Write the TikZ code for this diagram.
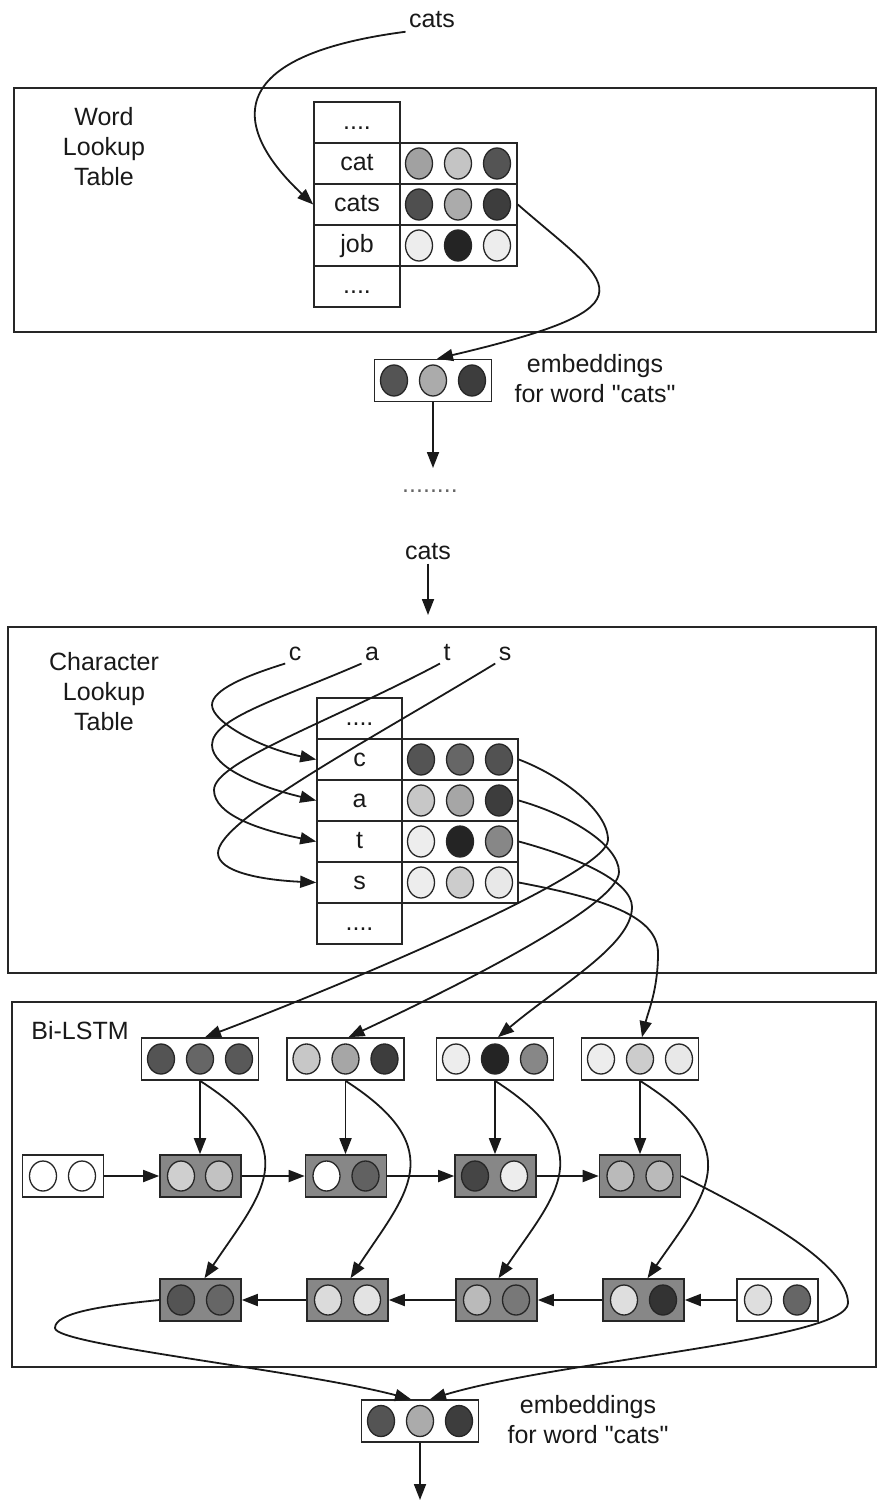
\documentclass[tikz,border=0pt]{standalone}
\usepackage{fontspec}
\setmainfont{Liberation Sans}
\usetikzlibrary{arrows.meta,shapes.geometric}
\newcommand\strq{\XeTeXglyph\XeTeXcharglyph"22\relax}
\begin{document}
\begin{tikzpicture}[x={(1pt,0)},y={(0,-1pt)},
  every node/.style={font=\fontsize{25}{30}\selectfont, text=black!90},
  frame/.style={draw=black!85, line width=1.8pt},
  cellbox/.style={draw=black!85, line width=1.6pt, minimum width=86pt, minimum height=41pt, inner sep=0pt, text height=19pt, text depth=5pt},
  rowbox/.style={draw=black!85, line width=1.6pt, minimum width=117pt, minimum height=41pt, inner sep=0pt},
  vecbox/.style={draw=black!85, fill=white, line width=1.6pt, minimum width=117pt, minimum height=42pt, inner sep=0pt},
  lstmbox/.style={draw=black!85, fill=black!47, line width=1.6pt, minimum width=81pt, minimum height=42pt, inner sep=0pt},
  initbox/.style={draw=black!85, fill=white, line width=1.6pt, minimum width=81pt, minimum height=42pt, inner sep=0pt},
  ball/.style={ellipse, draw=black!85, line width=1.3pt, minimum width=27pt, minimum height=31pt, inner sep=0pt, fill=black!#1},
  lettr/.style={text height=18pt, text depth=0pt},
  arr/.style={-{Triangle[length=16pt,width=12pt]}, line width=1.8pt, draw=black!90},
]
\useasboundingbox (0,0) rectangle (877,1502);

% ---------------- Word lookup table ----------------
\draw[frame] (14,88) rectangle (876,332);
\node (tcats) at (432,20) {cats};
\node[align=center] (wlab) at (104,147) {Word\\Lookup\\Table};
\node[cellbox] (wd1) at (357,122.5) {....};
\node[cellbox] (wcat) at (357,163.5) {cat};
\node[cellbox] (wcats) at (357,204.5) {cats};
\node[cellbox] (wjob) at (357,245.5) {job};
\node[cellbox] (wd2) at (357,286.5) {....};
\node[rowbox] (wcatv) at (458.5,163.5) {};
\node[rowbox] (wcatsv) at (458.5,204.5) {};
\node[rowbox] (wjobv) at (458.5,245.5) {};
\foreach \g [count=\k] in {37,23,67} \node[ball=\g] (wcatb\k) at ({380+\k*39},163.5) {};
\foreach \g [count=\k] in {69,33,76} \node[ball=\g] (wcatsb\k) at ({380+\k*39},204.5) {};
\foreach \g [count=\k] in {7,86,7} \node[ball=\g] (wjobb\k) at ({380+\k*39},245.5) {};

\draw[arr] (tcats.south west) .. controls (190,60) and (255,150) .. (wcats.west);

% embeddings 1
\node[vecbox] (emb1) at (433,380.5) {};
\foreach \g [count=\k] in {67,33,76} \node[ball=\g] (emb1b\k) at ({355+\k*39},380.5) {};
\node[align=center] (emb1lab) at (595,379) {embeddings\\for word \strq cats\strq};
\draw[arr] (wcatsv.east) .. controls (610,285) and (665,305) .. ([xshift=4pt]emb1.north);

\coordinate (mdtop) at (433,468);
\draw[arr] (emb1.south) -- (mdtop);
\node[text=black!60] (mdots) at (430,491) {........};
\node (mcats) at (428,552) {cats};
\coordinate (mcarr) at (428,615);
\draw[arr] (mcats.south) -- (mcarr);

% ---------------- Character lookup table ----------------
\draw[frame] (8,627) rectangle (876,973);
\node[align=center] (clab) at (104,692) {Character\\Lookup\\Table};
\node[lettr] (lc) at (295,651) {c};
\node[lettr] (la) at (372,651) {a};
\node[lettr] (lt) at (447,651) {t};
\node[lettr] (ls) at (505,651) {s};
\node[cellbox, minimum width=85pt] (cd1) at (359.5,718.5) {....};
\node[cellbox, minimum width=85pt] (cc) at (359.5,759.5) {c};
\node[cellbox, minimum width=85pt] (ca) at (359.5,800.5) {a};
\node[cellbox, minimum width=85pt] (ct) at (359.5,841.5) {t};
\node[cellbox, minimum width=85pt] (cs) at (359.5,882.5) {s};
\node[cellbox, minimum width=85pt] (cd2) at (359.5,923.5) {....};
\node[rowbox, minimum width=116pt] (ccv) at (460,759.5) {};
\node[rowbox, minimum width=116pt] (cav) at (460,800.5) {};
\node[rowbox, minimum width=116pt] (ctv) at (460,841.5) {};
\node[rowbox, minimum width=116pt] (csv) at (460,882.5) {};
\foreach \g [count=\k] in {67,60,68} \node[ball=\g] (ccb\k) at ({382+\k*39},759.5) {};
\foreach \g [count=\k] in {22,35,76} \node[ball=\g] (cab\k) at ({382+\k*39},800.5) {};
\foreach \g [count=\k] in {7,86,47} \node[ball=\g] (ctb\k) at ({382+\k*39},841.5) {};
\foreach \g [count=\k] in {7,20,9} \node[ball=\g] (csb\k) at ({382+\k*39},882.5) {};

\draw[arr] (lc.south west) .. controls (245,676) and (212,690) .. (212,705) .. controls (212,722) and (260,748) .. (cc.west);
\draw[arr] (la.south west) .. controls (280,699) and (212,718) .. (212,745) .. controls (212,768) and (260,787) .. (ca.west);
\draw[arr] (lt.south west) .. controls (330,722) and (214,762) .. (214,790) .. controls (214,815) and (260,830) .. (ct.west);
\draw[arr] (ls.south west) .. controls (370,740) and (218,820) .. (218,853) .. controls (218,872) and (262,880) .. (cs.west);

% ---------------- Bi-LSTM ----------------
\draw[frame] (12,1002) rectangle (876,1367);
\node (bilab) at (80,1031) {Bi-LSTM};

\node[vecbox] (in1) at (200,1059) {};
\node[vecbox] (in2) at (345.5,1059) {};
\node[vecbox] (in3) at (495,1059) {};
\node[vecbox] (in4) at (640,1059) {};
\foreach \g [count=\k] in {67,60,65} \node[ball=\g, minimum height=30pt] (in1b\k) at ({161+(\k-1)*39},1059) {};
\foreach \g [count=\k] in {22,35,76} \node[ball=\g, minimum height=30pt] (in2b\k) at ({306.5+(\k-1)*39},1059) {};
\foreach \g [count=\k] in {7,86,47} \node[ball=\g, minimum height=30pt] (in3b\k) at ({456+(\k-1)*39},1059) {};
\foreach \g [count=\k] in {7,20,9} \node[ball=\g, minimum height=30pt] (in4b\k) at ({601+(\k-1)*39},1059) {};

\draw[arr] (ccv.east) .. controls (560,775) and (608,810) .. (608,840) .. controls (608,875) and (330,990) .. ([xshift=5pt]in1.north);
\draw[arr] (cav.east) .. controls (570,815) and (619,845) .. (619,872) .. controls (619,905) and (460,985) .. ([xshift=3pt]in2.north);
\draw[arr] (ctv.east) .. controls (580,858) and (632,882) .. (632,907) .. controls (632,945) and (560,985) .. ([xshift=3pt]in3.north);
\draw[arr] (csv.east) .. controls (600,898) and (658,915) .. (658,953) .. controls (658,990) and (648,1012) .. ([xshift=2pt]in4.north);

% forward row
\node[initbox] (fi) at (63,1176) {};
\node[lstmbox] (f1) at (200.5,1176) {};
\node[lstmbox] (f2) at (346,1176) {};
\node[lstmbox] (f3) at (495.5,1176) {};
\node[lstmbox] (f4) at (640,1176) {};
\node[ball=0, minimum height=30pt] (fib1) at (43,1176) {};
\node[ball=0, minimum height=30pt] (fib2) at (82,1176) {};
\node[ball=19, minimum height=30pt] (f1b1) at (181,1176) {};
\node[ball=24, minimum height=30pt] (f1b2) at (219,1176) {};
\node[ball=0, minimum height=30pt] (f2b1) at (326.5,1176) {};
\node[ball=62, minimum height=30pt] (f2b2) at (365.5,1176) {};
\node[ball=73, minimum height=30pt] (f3b1) at (475,1176) {};
\node[ball=7, minimum height=30pt] (f3b2) at (514,1176) {};
\node[ball=27, minimum height=30pt] (f4b1) at (620.5,1176) {};
\node[ball=27, minimum height=30pt] (f4b2) at (659.5,1176) {};

% backward row
\node[lstmbox] (b1) at (200.5,1300) {};
\node[lstmbox] (b2) at (347.5,1300) {};
\node[lstmbox] (b3) at (496.5,1300) {};
\node[lstmbox] (b4) at (643.5,1300) {};
\node[initbox] (bi) at (777.5,1300) {};
\node[ball=67, minimum height=30pt] (b1b1) at (181,1300) {};
\node[ball=60, minimum height=30pt] (b1b2) at (220,1300) {};
\node[ball=14, minimum height=30pt] (b2b1) at (328,1300) {};
\node[ball=11, minimum height=30pt] (b2b2) at (367,1300) {};
\node[ball=27, minimum height=30pt] (b3b1) at (477,1300) {};
\node[ball=53, minimum height=30pt] (b3b2) at (516,1300) {};
\node[ball=13, minimum height=30pt] (b4b1) at (624,1300) {};
\node[ball=80, minimum height=30pt] (b4b2) at (663,1300) {};
\node[ball=13, minimum height=30pt] (bib1) at (758,1300) {};
\node[ball=60, minimum height=30pt] (bib2) at (797,1300) {};

% vertical arrows input -> forward
\foreach \k in {1,2,3,4} \draw[arr] (in\k.south) -- (in\k.south |- f\k.north);
% curved arrows input -> backward
\draw[arr] (in1.south) .. controls (308,1150) and (260,1195) .. ([xshift=4pt]b1.north);
\draw[arr] (in2.south) .. controls (453,1150) and (405,1195) .. ([xshift=3pt]b2.north);
\draw[arr] (in3.south) .. controls (603,1150) and (555,1195) .. ([xshift=2pt]b3.north);
\draw[arr] (in4.south) .. controls (750,1150) and (705,1195) .. ([xshift=4pt]b4.north);

% horizontal arrows
\draw[arr] (fi.east) -- (f1.west);
\draw[arr] (f1.east) -- (f2.west);
\draw[arr] (f2.east) -- (f3.west);
\draw[arr] (f3.east) -- (f4.west);
\draw[arr] (bi.west) -- (b4.east);
\draw[arr] (b4.west) -- (b3.east);
\draw[arr] (b3.west) -- (b2.east);
\draw[arr] (b2.west) -- (b1.east);

% ---------------- final embeddings ----------------
\node[vecbox] (emb2) at (420,1421) {};
\foreach \g [count=\k] in {67,33,76} \node[ball=\g] (emb2b\k) at ({342+\k*39},1421) {};
\node[align=center] (emb2lab) at (588,1420) {embeddings\\for word \strq cats\strq};

\draw[arr] (b1.west) .. controls (100,1306) and (55,1313) .. (55,1328) .. controls (55,1345) and (300,1370) .. ([xshift=-9pt]emb2.north);
\draw[arr] (f4.east) .. controls (760,1215) and (848,1265) .. (848,1303) .. controls (848,1340) and (560,1360) .. ([xshift=10pt]emb2.north);

\coordinate (endarr) at (420,1500);
\draw[arr] (emb2.south) -- (endarr);
\end{tikzpicture}
\end{document}
